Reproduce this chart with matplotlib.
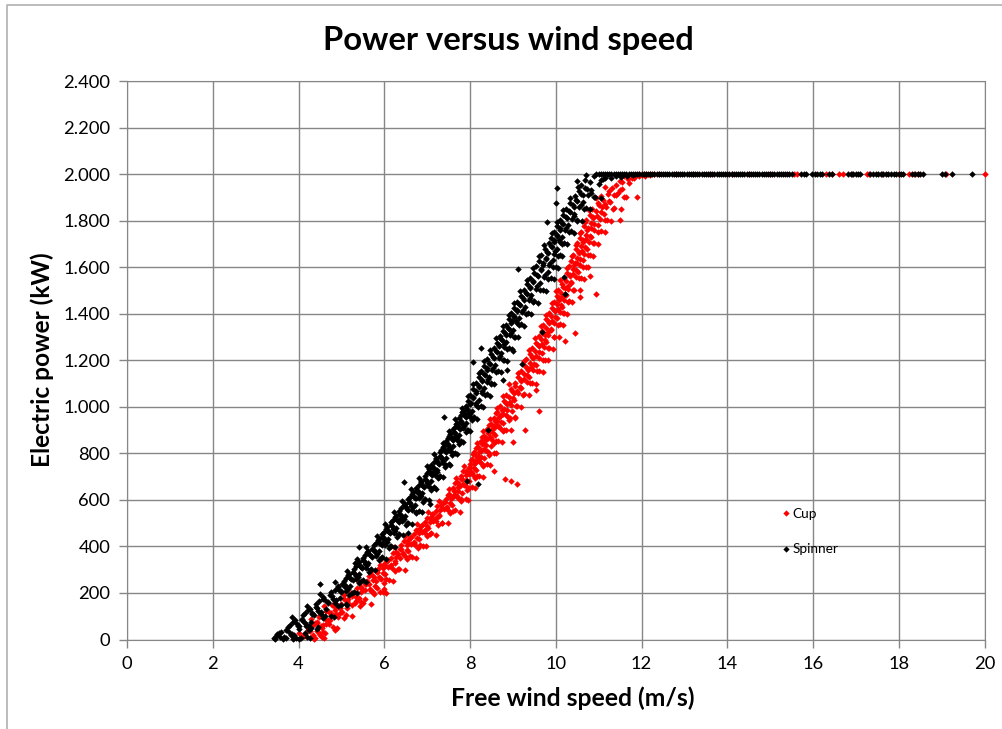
"""
Power versus wind speed, cup and spinner anemometer
"""
from matplotlib import pyplot as plt
from matplotlib.lines import Line2D

plt.rcParams['font.family'] = ['Lato', 'DejaVu Sans']

GRAY = '#868686'

# roughly band by band
cup_speed = [
    3.9, 4.02, 4.12, 4.24, 4.33, 4.44, 4.6, 4.57,
    4.2, 4.3, 4.38, 4.47, 4.56, 4.68, 4.8,
    4.5, 4.6, 4.7, 4.78, 4.88, 4.97, 5.1,
    4.98, 5.06, 5.14, 5.22, 5.31, 5.4, 5.5,
    5.3, 5.4, 5.49, 5.57, 5.68, 5.78, 5.9, 6.05, 6.0,
    5.6, 5.68, 5.76, 5.84, 5.92, 6.02, 6.1,
    5.85, 5.93, 6.02, 6.08, 6.17, 6.26, 6.35,
    6.15, 6.22, 6.31, 6.39, 6.48, 6.56, 6.65,
    6.4, 6.48, 6.55, 6.63, 6.71, 6.8, 6.9,
    6.7, 6.76, 6.82, 6.88, 6.95, 7.02, 7.1,
    6.95, 7.01, 7.08, 7.14, 7.21, 7.28, 7.35,
    7.2, 7.27, 7.35, 7.42, 7.49, 7.57, 7.65,
    7.45, 7.52, 7.6, 7.66, 7.73, 7.82, 7.9,
    7.6, 7.68, 7.75, 7.82, 7.9, 7.97, 8.05,
    7.8, 7.86, 7.93, 8.0, 8.07, 8.13, 8.2, 8.55,
    8.0, 8.06, 8.12, 8.19, 8.26, 8.33, 8.4, 8.82, 8.95, 9.1,
    8.1, 8.17, 8.25, 8.32, 8.4, 8.48, 8.55, 9.0,
    8.25, 8.31, 8.38, 8.45, 8.52, 8.58, 8.65, 9.28,
    8.4, 8.47, 8.55, 8.62, 8.7, 8.78, 8.85, 9.61,
    8.55, 8.63, 8.72, 8.8, 8.88, 8.97, 9.05,
    8.7, 8.77, 8.84, 8.9, 8.96, 9.03, 9.1, 9.53,
    8.85, 8.92, 8.99, 9.05, 9.12, 9.18, 9.25,
    9.05, 9.12, 9.19, 9.25, 9.32, 9.38, 9.45,
    9.2, 9.27, 9.34, 9.4, 9.47, 9.53, 9.6,
    9.3, 9.38, 9.45, 9.52, 9.6, 9.68, 9.75,
    9.45, 9.52, 9.58, 9.65, 9.72, 9.78, 9.85, 10.22,
    9.6, 9.66, 9.71, 9.77, 9.83, 9.89, 9.95, 10.45,
    9.7, 9.77, 9.83, 9.9, 9.97, 10.03, 10.1,
    9.85, 9.91, 9.97, 10.03, 10.09, 10.15, 10.2,
    9.95, 10.01, 10.07, 10.13, 10.19, 10.25, 10.3, 10.57, 10.94,
    10.05, 10.11, 10.17, 10.23, 10.29, 10.35, 10.4,
    10.2, 10.27, 10.34, 10.4, 10.47, 10.53, 10.6, 10.8,
    10.3, 10.37, 10.44, 10.5, 10.57, 10.63, 10.7,
    10.4, 10.47, 10.54, 10.6, 10.67, 10.73, 10.8,
    10.5, 10.57, 10.64, 10.7, 10.77, 10.83, 10.9,
    10.6, 10.68, 10.76, 10.83, 10.9, 10.98, 11.05,
    10.7, 10.78, 10.87, 10.95, 11.03, 11.12, 11.2, 11.5,
    10.85, 10.93, 11.02, 11.1, 11.18, 11.27, 11.35,
    11.05, 11.14, 11.23, 11.32, 11.41, 11.5, 11.6,
    11.4, 11.5, 11.6, 11.7, 11.78, 11.88, 12.0,
    # second reading, between the rows above
    4.05, 4.16, 4.27, 4.38, 4.5, 4.62,
    4.34, 4.44, 4.54, 4.64, 4.74, 4.9,
    4.75, 4.84, 4.93, 5.02, 5.12, 5.25,
    5.15, 5.25, 5.35, 5.45, 5.55, 5.68,
    5.45, 5.55, 5.64, 5.73, 5.82, 5.96,
    5.72, 5.8, 5.88, 5.96, 6.05, 6.2,
    6.0, 6.08, 6.16, 6.24, 6.33, 6.48,
    6.28, 6.36, 6.44, 6.52, 6.6, 6.75,
    6.55, 6.62, 6.69, 6.76, 6.84, 6.98,
    6.82, 6.88, 6.94, 7.0, 7.07, 7.2,
    7.08, 7.14, 7.2, 7.27, 7.34, 7.48,
    7.32, 7.39, 7.46, 7.53, 7.6, 7.76,
    7.52, 7.59, 7.66, 7.73, 7.8, 7.95,
    7.7, 7.77, 7.84, 7.91, 7.98, 8.12,
    7.9, 7.97, 8.03, 8.1, 8.16, 8.3,
    8.05, 8.12, 8.18, 8.25, 8.31, 8.46,
    8.18, 8.25, 8.32, 8.38, 8.45, 8.6,
    8.32, 8.39, 8.46, 8.53, 8.6, 8.75,
    8.48, 8.56, 8.64, 8.72, 8.8, 8.96,
    8.62, 8.7, 8.78, 8.86, 8.94, 9.06,
    8.8, 8.87, 8.94, 9.0, 9.07, 9.2,
    8.95, 9.02, 9.09, 9.16, 9.23, 9.38,
    9.12, 9.2, 9.27, 9.34, 9.41, 9.55,
    9.28, 9.35, 9.42, 9.5, 9.57, 9.7,
    9.4, 9.47, 9.54, 9.62, 9.7, 9.82,
    9.55, 9.62, 9.69, 9.76, 9.82, 9.93,
    9.68, 9.75, 9.82, 9.88, 9.95, 10.08,
    9.78, 9.85, 9.92, 9.98, 10.05, 10.16,
    9.92, 9.99, 10.05, 10.12, 10.18, 10.27,
    10.02, 10.08, 10.15, 10.21, 10.28, 10.38,
    10.15, 10.22, 10.29, 10.36, 10.43, 10.56,
    10.27, 10.34, 10.41, 10.48, 10.55, 10.66,
    10.36, 10.43, 10.5, 10.57, 10.64, 10.76,
    10.47, 10.54, 10.61, 10.68, 10.75, 10.86,
    10.56, 10.63, 10.71, 10.79, 10.87, 10.99,
    10.66, 10.74, 10.82, 10.9, 10.98, 11.15,
    10.8, 10.88, 10.97, 11.05, 11.14, 11.3,
    10.98, 11.07, 11.16, 11.25, 11.34, 11.52,
    11.25, 11.35, 11.45, 11.55, 11.65, 11.9,
    # third reading, dense lower part
    4.1, 4.22, 4.35, 4.47, 4.55,
    4.42, 4.52, 4.62, 4.72, 4.84,
    4.65, 4.76, 4.86, 4.96, 5.05,
    5.05, 5.15, 5.24, 5.34, 5.44,
    5.36, 5.46, 5.56, 5.66, 5.76,
    5.64, 5.74, 5.82, 5.9, 6.0,
    5.9, 5.98, 6.06, 6.14, 6.24,
    6.2, 6.28, 6.36, 6.44, 6.54,
    6.45, 6.53, 6.61, 6.69, 6.78,
    6.74, 6.8, 6.86, 6.92, 7.0,
    7.0, 7.06, 7.12, 7.18, 7.26,
    7.24, 7.31, 7.38, 7.45, 7.54,
    7.48, 7.55, 7.62, 7.7, 7.8,
    7.65, 7.72, 7.79, 7.86, 7.94,
    7.84, 7.9, 7.97, 8.04, 8.11,
    8.02, 8.09, 8.15, 8.22, 8.3,
    8.14, 8.21, 8.28, 8.36, 8.44,
    8.28, 8.35, 8.42, 8.49, 8.56,
    8.44, 8.51, 8.58, 8.66, 8.76,
    8.6, 8.67, 8.75, 8.83, 8.92,
    # just under rated power
    11.55, 11.68, 11.82, 11.95, 12.08, 12.2,
]
cup_power = [
    8, 30, 14, 44, 20, 36, 5, 33,
    58, 90, 70, 96, 62, 84, 55,
    105, 142, 118, 148, 110, 136, 104,
    152, 190, 164, 198, 158, 180, 156,
    205, 246, 218, 240, 210, 232, 204, 200, 218,
    252, 296, 268, 290, 258, 282, 254,
    304, 346, 316, 342, 308, 330, 302,
    352, 396, 368, 390, 358, 380, 354,
    404, 446, 416, 440, 408, 432, 402,
    452, 496, 466, 490, 458, 480, 456,
    506, 546, 518, 540, 508, 530, 502,
    552, 596, 566, 590, 558, 580, 556,
    604, 646, 616, 640, 608, 630, 602,
    652, 696, 668, 690, 658, 680, 654,
    702, 746, 716, 740, 708, 730, 704, 725,
    754, 796, 766, 790, 758, 780, 756, 688, 681, 670,
    804, 846, 816, 840, 808, 830, 802, 850,
    852, 896, 868, 890, 858, 880, 854, 900,
    904, 946, 916, 940, 908, 930, 902, 983,
    952, 996, 966, 990, 958, 980, 954,
    1004, 1046, 1016, 1040, 1008, 1030, 1002, 1072,
    1052, 1096, 1066, 1090, 1058, 1080, 1054,
    1104, 1146, 1116, 1140, 1108, 1130, 1102,
    1152, 1196, 1168, 1190, 1158, 1180, 1154,
    1204, 1246, 1216, 1240, 1208, 1230, 1202,
    1252, 1296, 1266, 1290, 1258, 1280, 1254, 1282,
    1304, 1346, 1316, 1340, 1308, 1330, 1302, 1318,
    1352, 1396, 1368, 1390, 1358, 1380, 1354,
    1404, 1446, 1416, 1440, 1408, 1430, 1402,
    1452, 1496, 1466, 1490, 1458, 1480, 1454, 1473, 1483,
    1504, 1546, 1516, 1540, 1508, 1530, 1502,
    1552, 1596, 1568, 1590, 1558, 1580, 1554, 1560,
    1604, 1646, 1616, 1640, 1608, 1630, 1602,
    1652, 1696, 1666, 1690, 1658, 1680, 1654,
    1704, 1746, 1716, 1740, 1708, 1730, 1702,
    1752, 1796, 1768, 1790, 1758, 1780, 1754,
    1804, 1846, 1816, 1840, 1808, 1830, 1802, 1803,
    1852, 1896, 1866, 1890, 1858, 1880, 1854,
    1904, 1946, 1916, 1940, 1908, 1930, 1902,
    1952, 1970, 1990, 1962, 1984, 1994, 1998,
    # second reading
    10, 24, 38, 6, 18, 30,
    62, 76, 50, 68, 84, 48,
    112, 128, 98, 120, 134, 100,
    176, 150, 184, 162, 172, 152,
    226, 212, 238, 202, 222, 206,
    276, 252, 268, 284, 260, 250,
    326, 310, 320, 336, 304, 300,
    376, 352, 370, 384, 360, 350,
    426, 410, 420, 436, 404, 400,
    476, 460, 470, 486, 452, 450,
    526, 510, 520, 536, 502, 500,
    576, 560, 570, 586, 552, 550,
    626, 610, 620, 636, 602, 600,
    676, 660, 670, 686, 652, 650,
    726, 710, 720, 736, 702, 700,
    776, 760, 770, 786, 752, 750,
    826, 810, 820, 836, 802, 800,
    876, 860, 870, 886, 852, 850,
    926, 910, 920, 936, 902, 900,
    976, 960, 970, 986, 952, 950,
    1026, 1010, 1020, 1036, 1002, 1000,
    1076, 1060, 1070, 1086, 1052, 1050,
    1126, 1110, 1120, 1136, 1102, 1100,
    1176, 1160, 1170, 1186, 1152, 1150,
    1226, 1210, 1220, 1236, 1202, 1200,
    1276, 1260, 1270, 1286, 1252, 1250,
    1326, 1310, 1320, 1336, 1302, 1300,
    1376, 1360, 1370, 1386, 1352, 1350,
    1426, 1410, 1420, 1436, 1402, 1400,
    1476, 1460, 1470, 1486, 1452, 1450,
    1526, 1510, 1520, 1536, 1502, 1500,
    1576, 1560, 1570, 1586, 1552, 1550,
    1626, 1610, 1620, 1636, 1602, 1600,
    1676, 1660, 1670, 1686, 1652, 1650,
    1726, 1710, 1720, 1736, 1702, 1700,
    1776, 1760, 1770, 1786, 1752, 1750,
    1826, 1810, 1820, 1836, 1802, 1800,
    1876, 1860, 1870, 1886, 1852, 1850,
    1926, 1910, 1920, 1936, 1902, 1900,
    # third reading
    15, 40, 3, 28, 12,
    72, 56, 88, 66, 42,
    122, 106, 138, 116, 94,
    172, 156, 188, 166, 144,
    222, 206, 238, 216, 194,
    272, 256, 288, 266, 244,
    322, 306, 338, 316, 294,
    372, 356, 388, 366, 344,
    422, 406, 438, 416, 394,
    472, 456, 488, 466, 444,
    522, 506, 538, 516, 494,
    572, 556, 588, 566, 544,
    622, 606, 638, 616, 594,
    672, 656, 688, 666, 644,
    722, 706, 738, 716, 694,
    772, 756, 788, 766, 744,
    822, 806, 838, 816, 794,
    872, 856, 888, 866, 844,
    922, 906, 938, 916, 894,
    972, 956, 988, 966, 944,
    # just under rated power
    1968, 1980, 1985, 1990, 1992, 1996,
]
# rated power runs, cup
cup_rated_speed = [
    11.95, 12.05, 12.1, 12.2, 12.3, 12.4, 12.8, 13.2, 13.6, 14.1, 14.5, 15.0, 15.56, 15.62,
    16.3, 16.45, 16.6, 16.7, 16.9, 17.25, 17.3, 17.6, 18.0, 18.25, 18.35, 18.45, 19.1, 20.0,
]

spinner_speed = [
    3.42, 3.5, 3.58, 3.7, 3.82, 3.95, 4.15, 3.46, 3.64, 3.88, 4.05, 4.27,
    3.75, 3.85, 3.96, 4.07, 4.18, 4.3, 4.45, 4.24,
    4.1, 4.2, 4.31, 4.41, 4.52, 4.63, 4.75,
    4.4, 4.5, 4.62, 4.73, 4.85, 4.97, 5.1,
    4.75, 4.84, 4.93, 5.02, 5.11, 5.2, 5.3, 4.49,
    5.05, 5.12, 5.2, 5.27, 5.35, 5.42, 5.5,
    5.3, 5.37, 5.43, 5.5, 5.57, 5.63, 5.7, 5.32,
    5.5, 5.57, 5.65, 5.72, 5.8, 5.87, 5.95,
    5.75, 5.82, 5.88, 5.95, 6.02, 6.08, 6.15, 5.42,
    5.95, 6.02, 6.08, 6.15, 6.22, 6.28, 6.35, 6.55,
    6.15, 6.22, 6.28, 6.35, 6.42, 6.48, 6.55,
    6.35, 6.42, 6.5, 6.57, 6.65, 6.72, 6.8, 7.07,
    6.55, 6.62, 6.68, 6.75, 6.82, 6.88, 6.95,
    6.75, 6.82, 6.88, 6.95, 7.02, 7.08, 7.15, 6.46, 8.18, 7.92,
    6.95, 7.0, 7.06, 7.12, 7.18, 7.24, 7.3,
    7.1, 7.17, 7.23, 7.3, 7.37, 7.43, 7.5,
    7.3, 7.36, 7.42, 7.48, 7.54, 7.6, 7.65,
    7.45, 7.51, 7.57, 7.63, 7.69, 7.75, 7.8, 8.43,
    7.6, 7.66, 7.72, 7.78, 7.84, 7.9, 7.95, 7.39,
    7.75, 7.81, 7.87, 7.93, 7.99, 8.05, 8.1,
    7.9, 7.96, 8.02, 8.08, 8.14, 8.2, 8.25,
    8.0, 8.07, 8.14, 8.2, 8.27, 8.33, 8.4,
    8.15, 8.21, 8.27, 8.33, 8.39, 8.45, 8.5, 8.78, 8.86,
    8.25, 8.32, 8.39, 8.45, 8.52, 8.58, 8.65, 8.07, 9.22,
    8.4, 8.47, 8.54, 8.6, 8.67, 8.73, 8.8, 8.26, 9.0,
    8.55, 8.61, 8.67, 8.73, 8.79, 8.85, 8.9,
    8.7, 8.76, 8.82, 8.88, 8.94, 9.0, 9.05, 9.69,
    8.85, 8.91, 8.97, 9.03, 9.09, 9.15, 9.2,
    8.95, 9.02, 9.09, 9.15, 9.22, 9.28, 9.35,
    9.1, 9.17, 9.24, 9.3, 9.37, 9.43, 9.5, 10.22,
    9.25, 9.33, 9.4, 9.48, 9.55, 9.63, 9.7, 10.2,
    9.4, 9.48, 9.56, 9.65, 9.73, 9.82, 9.9, 9.11,
    9.55, 9.62, 9.7, 9.78, 9.85, 9.93, 10.0,
    9.65, 9.72, 9.8, 9.88, 9.95, 10.03, 10.1,
    9.85, 9.91, 9.97, 10.03, 10.09, 10.15, 10.2,
    9.95, 10.02, 10.09, 10.15, 10.22, 10.28, 10.35, 9.79,
    10.1, 10.17, 10.24, 10.3, 10.37, 10.43, 10.5,
    10.25, 10.33, 10.4, 10.48, 10.55, 10.63, 10.7, 10.0,
    10.45, 10.52, 10.6, 10.68, 10.75, 10.83, 10.9, 10.02,
    10.6, 10.7, 10.8, 10.9, 11.0, 11.1, 11.2, 10.5, 10.68,
    # second reading, between the rows above
    3.55, 3.66, 3.78, 3.9, 4.02, 4.2,
    3.88, 3.98, 4.08, 4.18, 4.28, 4.42,
    4.22, 4.32, 4.42, 4.52, 4.62, 4.82,
    4.58, 4.68, 4.78, 4.88, 4.98, 5.12,
    4.92, 5.0, 5.08, 5.16, 5.24, 5.36,
    5.15, 5.23, 5.3, 5.38, 5.46, 5.58,
    5.38, 5.46, 5.53, 5.6, 5.67, 5.78,
    5.6, 5.68, 5.76, 5.84, 5.92, 6.04,
    5.85, 5.92, 5.99, 6.06, 6.13, 6.24,
    6.05, 6.12, 6.19, 6.26, 6.33, 6.44,
    6.25, 6.32, 6.39, 6.46, 6.53, 6.64,
    6.45, 6.52, 6.6, 6.67, 6.75, 6.88,
    6.65, 6.72, 6.79, 6.86, 6.93, 7.04,
    6.85, 6.91, 6.97, 7.03, 7.1, 7.2,
    7.04, 7.1, 7.16, 7.22, 7.28, 7.38,
    7.2, 7.26, 7.32, 7.38, 7.44, 7.54,
    7.36, 7.42, 7.48, 7.54, 7.6, 7.7,
    7.52, 7.58, 7.64, 7.7, 7.76, 7.84,
    7.68, 7.74, 7.8, 7.86, 7.92, 8.0,
    7.82, 7.88, 7.94, 8.0, 8.06, 8.16,
    7.95, 8.01, 8.07, 8.13, 8.19, 8.3,
    8.08, 8.15, 8.22, 8.28, 8.35, 8.46,
    8.2, 8.27, 8.34, 8.41, 8.48, 8.56,
    8.32, 8.39, 8.46, 8.53, 8.6, 8.72,
    8.48, 8.55, 8.62, 8.69, 8.76, 8.86,
    8.62, 8.68, 8.74, 8.8, 8.86, 8.98,
    8.78, 8.84, 8.9, 8.96, 9.02, 9.12,
    8.9, 8.96, 9.02, 9.08, 9.14, 9.26,
    9.02, 9.09, 9.16, 9.23, 9.3, 9.42,
    9.18, 9.25, 9.32, 9.39, 9.46, 9.58,
    9.32, 9.4, 9.48, 9.56, 9.64, 9.78,
    9.5, 9.58, 9.66, 9.74, 9.82, 9.95,
    9.62, 9.7, 9.78, 9.86, 9.94, 10.05,
    9.75, 9.83, 9.91, 9.98, 10.06, 10.15,
    9.9, 9.96, 10.02, 10.08, 10.14, 10.26,
    10.02, 10.09, 10.16, 10.23, 10.3, 10.42,
    10.18, 10.26, 10.34, 10.42, 10.5, 10.62,
    10.34, 10.42, 10.5, 10.58, 10.66, 10.8,
    10.54, 10.63, 10.72, 10.82, 10.92, 11.05,
    # third reading, dense lower part
    3.48, 3.6, 3.72, 3.85, 4.0,
    3.8, 3.92, 4.02, 4.12, 4.24,
    4.16, 4.26, 4.36, 4.46, 4.58,
    4.48, 4.58, 4.68, 4.8, 4.92,
    4.84, 4.92, 5.0, 5.08, 5.18,
    5.1, 5.18, 5.26, 5.34, 5.42,
    5.34, 5.42, 5.49, 5.56, 5.64,
    5.55, 5.63, 5.71, 5.79, 5.88,
    5.8, 5.87, 5.94, 6.0, 6.1,
    6.0, 6.07, 6.14, 6.2, 6.3,
    6.2, 6.27, 6.34, 6.4, 6.5,
    6.4, 6.48, 6.56, 6.63, 6.74,
    6.6, 6.67, 6.74, 6.8, 6.9,
    6.8, 6.86, 6.92, 6.99, 7.08,
    7.0, 7.05, 7.11, 7.17, 7.25,
    7.15, 7.21, 7.27, 7.34, 7.42,
    7.33, 7.39, 7.45, 7.51, 7.58,
    7.48, 7.54, 7.6, 7.66, 7.74,
    7.64, 7.7, 7.76, 7.82, 7.9,
    7.78, 7.84, 7.9, 7.96, 8.04,
    # just under rated power
    11.05, 11.15, 11.28, 11.4, 11.52, 11.66, 11.8,
]
spinner_power = [
    8, 22, 12, 40, 18, 8, 30, 2, 4, 3, 6, 7,
    52, 96, 68, 88, 58, 74, 54, 59,
    104, 146, 116, 140, 108, 130, 102,
    152, 196, 168, 190, 158, 180, 154,
    204, 246, 216, 240, 208, 230, 202, 237,
    252, 296, 266, 290, 258, 280, 254,
    304, 346, 316, 340, 308, 330, 302, 330,
    352, 396, 368, 390, 358, 380, 354,
    404, 446, 416, 440, 408, 430, 402, 396,
    452, 496, 466, 490, 458, 480, 454, 456,
    504, 546, 516, 540, 508, 530, 502,
    552, 596, 568, 590, 558, 580, 554, 581,
    604, 646, 616, 640, 608, 630, 602,
    652, 696, 666, 690, 658, 680, 654, 677, 670, 680,
    704, 746, 716, 740, 708, 730, 702,
    752, 796, 768, 790, 758, 780, 754,
    804, 846, 816, 840, 808, 830, 802,
    852, 896, 866, 890, 858, 880, 854, 902,
    904, 946, 916, 940, 908, 930, 902, 955,
    952, 996, 968, 990, 958, 980, 954,
    1004, 1046, 1016, 1040, 1008, 1030, 1002,
    1052, 1096, 1066, 1090, 1058, 1080, 1054,
    1104, 1146, 1116, 1140, 1108, 1130, 1102, 1116, 1156,
    1152, 1196, 1168, 1190, 1158, 1180, 1154, 1191, 1186,
    1204, 1246, 1216, 1240, 1208, 1230, 1202, 1254, 1240,
    1252, 1296, 1266, 1290, 1258, 1280, 1254,
    1304, 1346, 1316, 1340, 1308, 1330, 1302, 1320,
    1352, 1396, 1368, 1390, 1358, 1380, 1354,
    1404, 1446, 1416, 1440, 1408, 1430, 1402,
    1452, 1496, 1466, 1490, 1458, 1480, 1454, 1483,
    1504, 1546, 1516, 1540, 1508, 1530, 1502, 1559,
    1552, 1596, 1568, 1590, 1558, 1580, 1554, 1591,
    1604, 1646, 1616, 1640, 1608, 1630, 1602,
    1652, 1696, 1666, 1690, 1658, 1680, 1654,
    1704, 1746, 1716, 1740, 1708, 1730, 1702,
    1752, 1796, 1768, 1790, 1758, 1780, 1754, 1796,
    1804, 1846, 1816, 1840, 1808, 1830, 1802,
    1852, 1896, 1866, 1890, 1858, 1880, 1854, 1877,
    1904, 1946, 1916, 1940, 1908, 1930, 1902, 1939,
    1952, 1996, 1968, 1990, 1958, 1980, 1996, 1970, 1975,
    # second reading
    26, 10, 34, 18, 44, 12,
    76, 60, 84, 66, 50, 46,
    126, 110, 136, 118, 100, 98,
    176, 160, 186, 168, 150, 148,
    226, 210, 236, 218, 200, 198,
    276, 260, 286, 268, 250, 248,
    326, 310, 336, 318, 300, 298,
    376, 360, 386, 368, 350, 348,
    426, 410, 436, 418, 400, 398,
    476, 460, 486, 468, 450, 448,
    526, 510, 536, 518, 500, 498,
    576, 560, 586, 568, 550, 548,
    626, 610, 636, 618, 600, 598,
    676, 660, 686, 668, 650, 648,
    726, 710, 736, 718, 700, 698,
    776, 760, 786, 768, 750, 748,
    826, 810, 836, 818, 800, 798,
    876, 860, 886, 868, 850, 848,
    926, 910, 936, 918, 900, 898,
    976, 960, 986, 968, 950, 948,
    1026, 1010, 1036, 1018, 1000, 998,
    1076, 1060, 1086, 1068, 1050, 1048,
    1126, 1110, 1136, 1118, 1100, 1098,
    1176, 1160, 1186, 1168, 1150, 1148,
    1226, 1210, 1236, 1218, 1200, 1198,
    1276, 1260, 1286, 1268, 1250, 1248,
    1326, 1310, 1336, 1318, 1300, 1298,
    1376, 1360, 1386, 1368, 1350, 1348,
    1426, 1410, 1436, 1418, 1400, 1398,
    1476, 1460, 1486, 1468, 1450, 1448,
    1526, 1510, 1536, 1518, 1500, 1498,
    1576, 1560, 1586, 1568, 1550, 1548,
    1626, 1610, 1636, 1618, 1600, 1598,
    1676, 1660, 1686, 1668, 1650, 1648,
    1726, 1710, 1736, 1718, 1700, 1698,
    1776, 1760, 1786, 1768, 1750, 1748,
    1826, 1810, 1836, 1818, 1800, 1798,
    1876, 1860, 1886, 1868, 1850, 1848,
    1926, 1910, 1936, 1918, 1900, 1898,
    # third reading
    14, 32, 6, 24, 2,
    64, 82, 56, 74, 42,
    114, 132, 106, 124, 92,
    164, 182, 156, 174, 142,
    214, 232, 206, 224, 192,
    264, 282, 256, 274, 242,
    314, 332, 306, 324, 292,
    364, 382, 356, 374, 342,
    414, 432, 406, 424, 392,
    464, 482, 456, 474, 442,
    514, 532, 506, 524, 492,
    564, 582, 556, 574, 542,
    614, 632, 606, 624, 592,
    664, 682, 656, 674, 642,
    714, 732, 706, 724, 692,
    764, 782, 756, 774, 742,
    814, 832, 806, 824, 792,
    864, 882, 856, 874, 842,
    914, 932, 906, 924, 892,
    964, 982, 956, 974, 942,
    # just under rated power
    1975, 1985, 1982, 1990, 1988, 1993, 1995,
]
# rated power runs, spinner
spinner_rated_speed = [
    10.95, 11.0, 11.05, 11.1, 11.15, 11.2, 11.25, 11.3, 11.35, 11.4, 11.45, 11.5,
    11.55, 11.6, 11.65, 11.7, 11.75, 11.8, 11.85, 11.9, 11.95,
    12.0, 12.05, 12.1, 12.15, 12.2, 12.25, 12.3, 12.35, 12.4, 12.45, 12.5, 12.55, 12.6,
    12.65, 12.7, 12.75, 12.8, 12.85, 12.9, 12.95, 13.0, 13.05, 13.1, 13.15, 13.2, 13.25,
    13.3, 13.35, 13.4, 13.45, 13.5, 13.55, 13.6, 13.65, 13.7, 13.75, 13.8, 13.85, 13.9,
    13.95, 14.0, 14.05, 14.1, 14.15, 14.2, 14.25, 14.3, 14.35, 14.4, 14.45, 14.5, 14.55,
    14.6, 14.65, 14.7, 14.75, 14.8, 14.85, 14.9, 14.95, 15.0, 15.05, 15.1, 15.15, 15.2,
    15.25, 15.3, 15.35, 15.4, 15.45, 15.5, 15.72, 15.78, 15.84, 15.98, 16.04, 16.1, 16.16, 16.2,
    16.38, 16.44, 16.82, 16.88, 16.94, 17.0, 17.06, 17.1, 17.34, 17.4, 17.46, 17.52, 17.58,
    17.64, 17.7, 17.76, 17.82, 17.88, 17.94, 18.0, 18.06, 18.1, 18.32, 18.38, 18.44, 18.5, 18.57,
    19.0, 19.09, 19.24, 19.71,
]
rated_power = 2000

y_ticks = [0, 200, 400, 600, 800, 1000, 1200, 1400, 1600, 1800, 2000, 2200, 2400]
y_labels = ['0', '200', '400', '600', '800', '1.000', '1.200', '1.400', '1.600',
            '1.800', '2.000', '2.200', '2.400']
x_ticks = [0, 2, 4, 6, 8, 10, 12, 14, 16, 18, 20]

fig = plt.figure(figsize=(10.02, 7.29), dpi=100)
ax = fig.add_axes([127 / 1002, 1 - 639.5 / 729, 857.5 / 1002, 558.5 / 729])

marker = dict(marker='D', s=11, linewidths=0, clip_on=False, zorder=3)
ax.scatter(cup_speed, cup_power, color='#ff0000', **marker)
ax.scatter(cup_rated_speed, [rated_power] * len(cup_rated_speed), color='#ff0000', **marker)
ax.scatter(spinner_speed, spinner_power, color='#000000', **marker)
ax.scatter(spinner_rated_speed, [rated_power] * len(spinner_rated_speed),
           color='#000000', **marker)

ax.set_xlim(0, 20)
ax.set_ylim(0, 2400)
ax.set_xticks(x_ticks)
ax.set_yticks(y_ticks)
ax.set_yticklabels(y_labels)
ax.grid(True, color=GRAY, linewidth=1)
ax.set_axisbelow(True)
ax.tick_params(length=6, width=1, color=GRAY, labelsize=13.2, pad=6, labelcolor='black')
for spine in ax.spines.values():
    spine.set_color(GRAY)

fig.text(508.5 / 1002, 1 - 40.5 / 729, 'Power versus wind speed', fontsize=23.6, fontweight='bold',
         ha='center', va='center')
fig.text(573 / 1002, 1 - 698 / 729, 'Free wind speed (m/s)', fontsize=17.8, fontweight='bold',
         ha='center', va='center')
fig.text(42 / 1002, 1 - 360 / 729, 'Electric power (kW)', fontsize=17.6, fontweight='bold',
         ha='center', va='center', rotation=90)

# legend sits in the plot area with no frame
handles = [Line2D([], [], linestyle='none', marker='D', markersize=3.2, color='#ff0000',
                  markeredgewidth=0, label='Cup'),
           Line2D([], [], linestyle='none', marker='D', markersize=3.2, color='#000000',
                  markeredgewidth=0, label='Spinner')]
ax.legend(handles=handles, loc='upper left', bbox_to_anchor=(778.5 / 1002, 1 - 508 / 729),
          bbox_transform=fig.transFigure, frameon=False, fontsize=9.8, labelspacing=1.71,
          handletextpad=-0.1, borderpad=0, borderaxespad=0, handlelength=1.1)

# chart area border, open on the right
fig.add_artist(Line2D([6.5 / 1002, 6.5 / 1002, 1], [0, 1 - 5 / 729, 1 - 5 / 729],
                      color='#b0b0b0', linewidth=1.2))

fig.savefig('out.png', dpi=100)
